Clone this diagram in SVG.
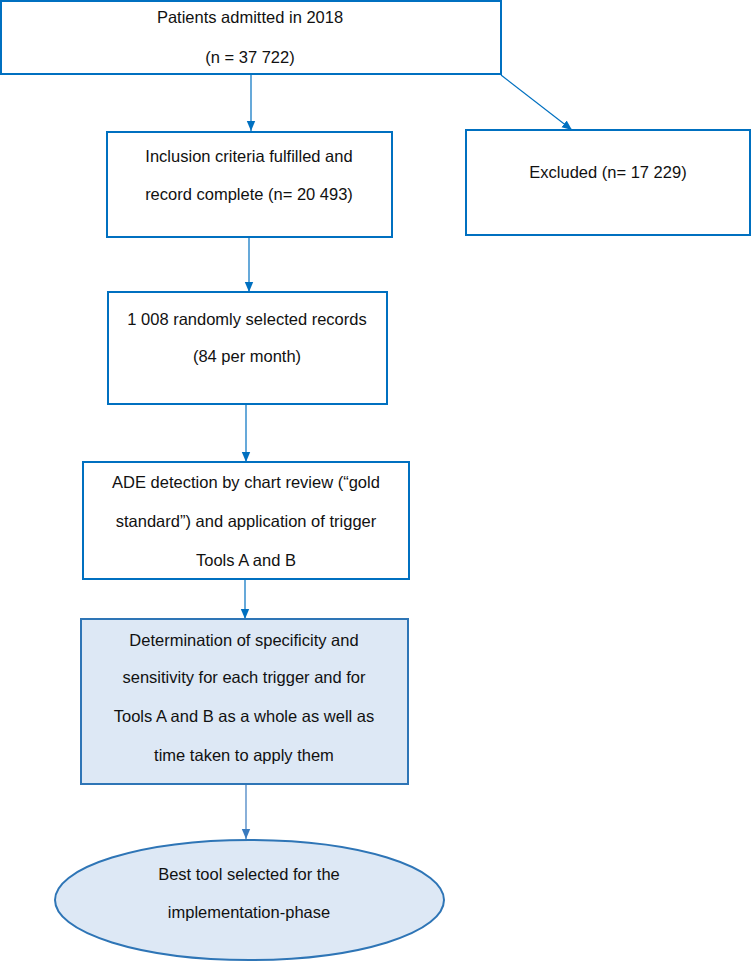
<svg xmlns="http://www.w3.org/2000/svg" width="751" height="962" viewBox="0 0 751 962">
<style>
.box{fill:#ffffff;stroke:#0070c0;stroke-width:2}
.fill{fill:#dde8f5;stroke:#2e75b6;stroke-width:2}
.t{font-family:"Liberation Sans",Arial,sans-serif;font-size:16.5px;fill:#111;text-anchor:middle}
.c{stroke:#0070c0;stroke-width:1.2;fill:none;marker-end:url(#ah)}
.c2{stroke:#3a7bbf;stroke-width:1.2;fill:none;marker-end:url(#ah2)}
</style>
<defs>
<marker id="ah" markerUnits="userSpaceOnUse" markerWidth="10" markerHeight="10" viewBox="0 0 10 10" refX="10" refY="5" orient="auto">
<path d="M0,0.8 L10,5 L0,9.2 Z" fill="#0070c0"/>
</marker>
<marker id="ah2" markerUnits="userSpaceOnUse" markerWidth="10" markerHeight="10" viewBox="0 0 10 10" refX="10" refY="5" orient="auto">
<path d="M0,0.8 L10,5 L0,9.2 Z" fill="#3a7bbf"/>
</marker>
</defs>
<g id="connectors">
<line class="c" x1="251" y1="75" x2="251" y2="131"/>
<line class="c" x1="501" y1="75" x2="572" y2="130"/>
<line class="c" x1="249" y1="237" x2="249" y2="292"/>
<line class="c" x1="246" y1="405" x2="246" y2="462"/>
<line class="c" x1="245" y1="579" x2="245" y2="619"/>
<line class="c2" x1="246" y1="784" x2="246" y2="839"/>
</g>
<g id="node-admitted">
<rect class="box" x="1" y="1" width="500" height="73"/>
<text class="t" x="250" y="23">Patients admitted in 2018</text>
<text class="t" x="250" y="63">(n = 37 722)</text>
</g>
<g id="node-inclusion">
<rect class="box" x="107" y="132" width="285" height="105"/>
<text class="t" x="249" y="162">Inclusion criteria fulfilled and</text>
<text class="t" x="249" y="200">record complete (n= 20 493)</text>
</g>
<g id="node-excluded">
<rect class="box" x="466" y="130" width="284" height="105"/>
<text class="t" x="608" y="178">Excluded (n= 17 229)</text>
</g>
<g id="node-selected">
<rect class="box" x="108" y="292" width="279" height="112"/>
<text class="t" x="247" y="325">1 008 randomly selected records</text>
<text class="t" x="247" y="362">(84 per month)</text>
</g>
<g id="node-ade">
<rect class="box" x="83" y="462" width="326" height="117"/>
<text class="t" x="246" y="488">ADE detection by chart review (“gold</text>
<text class="t" x="246" y="527">standard”) and application of trigger</text>
<text class="t" x="246" y="566">Tools A and B</text>
</g>
<g id="node-determination">
<rect class="fill" x="81" y="619" width="327" height="165"/>
<text class="t" x="244" y="646">Determination of specificity and</text>
<text class="t" x="244" y="683">sensitivity for each trigger and for</text>
<text class="t" x="244" y="722">Tools A and B as a whole as well as</text>
<text class="t" x="244" y="761">time taken to apply them</text>
</g>
<g id="node-best">
<ellipse class="fill" cx="249.5" cy="900" rx="194.5" ry="60"/>
<text class="t" x="249" y="880">Best tool selected for the</text>
<text class="t" x="249" y="918">implementation-phase</text>
</g>
</svg>
